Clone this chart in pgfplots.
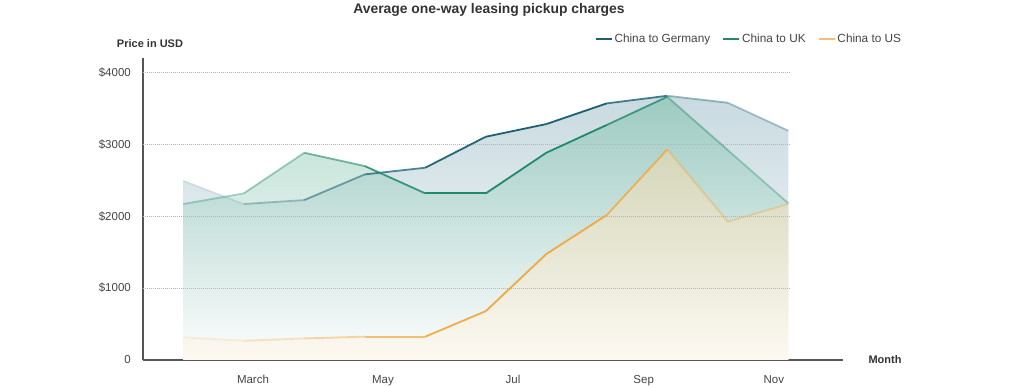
\documentclass[border=0pt]{standalone}
\usepackage{pgfplots}
\pgfplotsset{compat=1.18}
\usepackage{pgfplotstable}
\usepackage{fontspec}
\setmainfont{Liberation Sans}

\definecolor{ger}{HTML}{1B6170}
\definecolor{uk}{HTML}{1F8A6C}
\definecolor{us}{HTML}{F0AA42}
\definecolor{txt}{HTML}{444444}
\definecolor{ttl}{HTML}{333333}
\definecolor{axisc}{HTML}{555555}
\definecolor{gridc}{HTML}{B5B5B5}
\definecolor{gertop}{RGB}{200,218,224}
\definecolor{gerbot}{RGB}{252,253,253}
\definecolor{uktop}{RGB}{105,183,158}
\definecolor{ukbot}{RGB}{255,255,255}
\definecolor{ustop}{RGB}{248,216,165}
\definecolor{usbot}{RGB}{254,246,232}

\pgfplotstableread{
x ger uk us
0 2495 2170 315
1 2170 2318 268
2 2225 2883 300
3 2582 2698 325
4 2675 2318 325
5 3106 2318 680
6 3282 2883 1474
7 3570 3270 2017
8 3676 3662 2930
9 3579 2920 1924
10 3190 2180 2170
}\data

% one line segment: colour, column, from, to, opacity
\newcommand\seg[5]{\addplot[#1, line width=1.8pt, draw opacity=#5, forget plot,
  restrict x to domain=#3:#4] table[x=x,y=#2] {\data};}

\begin{document}
\begin{tikzpicture}
\useasboundingbox (-143pt,-27pt) rectangle (873pt,360pt);
\begin{axis}[
  at={(0pt,0pt)}, anchor=south west,
  scale only axis, width=700pt, height=301.9pt,
  xmin=-0.666, xmax=10.904, ymin=0, ymax=4200,
  axis x line*=bottom, axis y line*=left,
  axis line style={axisc, line width=2pt},
  xtick={1.152,3.30,5.45,7.61,9.76},
  xticklabels={March,May,Jul,Sep,Nov},
  ytick={0,1000,2000,3000,4000},
  yticklabels={0,\$1000,\$2000,\$3000,\$4000},
  major tick length=0pt,
  tick label style={font=\fontsize{11.5}{13}\selectfont, text=txt, inner sep=0pt},
  yticklabel style={anchor=east, xshift=-12pt},
  xticklabel style={anchor=base, yshift=-24pt},
  legend columns=3,
  legend style={draw=none, fill=none, at={(axis description cs:0.645,1.063)}, anchor=west,
    font=\fontsize{11.8}{13}\selectfont, text=txt, inner sep=0pt,
    /tikz/every even column/.append style={column sep=10pt}},
  legend image code/.code={\draw[#1, line width=1.8pt] (0pt,0pt) -- (16pt,0pt);},
  clip=false,
]
% area fills
\addplot[draw=none, top color=gertop, bottom color=gerbot, forget plot] table[x=x,y=ger] {\data} \closedcycle;
\addplot[draw=none, top color=uktop, bottom color=ukbot, fill opacity=0.45, forget plot] table[x=x,y=uk] {\data} \closedcycle;
\addplot[draw=none, top color=ustop, bottom color=usbot, fill opacity=0.5, forget plot] table[x=x,y=us] {\data} \closedcycle;
% grid lines
\foreach \g in {1000,2000,3000,4000}{
  \edef\tmp{\noexpand\draw[gridc, line width=0.7pt, dash pattern=on 1pt off 1pt] (axis cs:-0.666,\g) -- (axis cs:10.03,\g);}\tmp
}
% lines, segment by segment (fading at the ends)
\seg{ger}{ger}{0}{1}{0.12}
\seg{ger}{ger}{1}{2}{0.35}
\seg{ger}{ger}{2}{3}{0.55}
\seg{ger}{ger}{3}{4}{0.75}
\seg{ger}{ger}{4}{5}{0.95}
\seg{ger}{ger}{5}{6}{1}
\seg{ger}{ger}{6}{7}{1}
\seg{ger}{ger}{7}{8}{0.8}
\seg{ger}{ger}{8}{9}{0.42}
\seg{ger}{ger}{9}{10}{0.35}
\seg{uk}{uk}{0}{1}{0.35}
\seg{uk}{uk}{1}{2}{0.42}
\seg{uk}{uk}{2}{3}{0.6}
\seg{uk}{uk}{3}{4}{0.85}
\seg{uk}{uk}{4}{5}{1}
\seg{uk}{uk}{5}{6}{1}
\seg{uk}{uk}{6}{7}{1}
\seg{uk}{uk}{7}{8}{0.8}
\seg{uk}{uk}{8}{9}{0.42}
\seg{uk}{uk}{9}{10}{0.35}
\seg{us}{us}{0}{1}{0.15}
\seg{us}{us}{1}{2}{0.3}
\seg{us}{us}{2}{3}{0.45}
\seg{us}{us}{3}{4}{0.7}
\seg{us}{us}{4}{5}{0.95}
\seg{us}{us}{5}{6}{1}
\seg{us}{us}{6}{7}{1}
\seg{us}{us}{7}{8}{0.85}
\seg{us}{us}{8}{9}{0.42}
\seg{us}{us}{9}{10}{0.38}
\addlegendimage{ger}
\addlegendentry{China to Germany}
\addlegendimage{uk}
\addlegendentry{China to UK}
\addlegendimage{us!75}
\addlegendentry{China to US}
\end{axis}
\node[font=\fontsize{13.9}{16}\selectfont\bfseries, text=ttl] at (346pt,350pt) {Average one-way leasing pickup charges};
\node[font=\fontsize{11}{13}\selectfont\bfseries, text=ttl] at (7pt,316pt) {Price in USD};
\node[font=\fontsize{11}{13}\selectfont\bfseries, text=ttl] at (742pt,0pt) {Month};
\end{tikzpicture}
\end{document}
